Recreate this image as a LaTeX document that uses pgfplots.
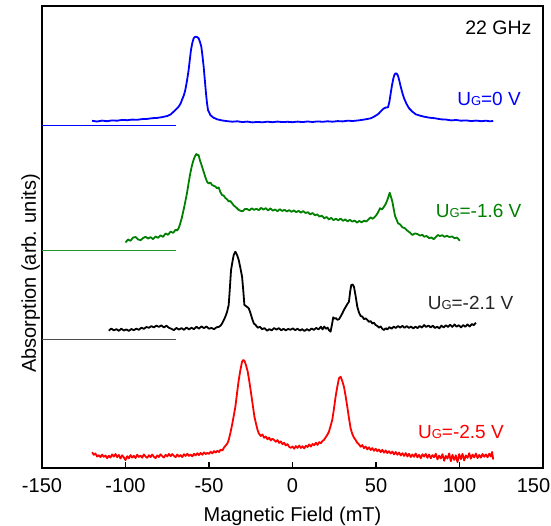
\documentclass[border=0pt]{standalone}
\usepackage{pgfplots}
\pgfplotsset{compat=1.18}
\usepackage{fontspec}
\setmainfont{Liberation Sans}
\definecolor{cblue}{RGB}{0,0,255}
\definecolor{cgreen}{RGB}{0,128,0}
\definecolor{cred}{RGB}{255,0,0}
\definecolor{cblack}{RGB}{0,0,0}
\newcommand\UG{U{\fontsize{13}{13}\selectfont G}}
\begin{document}
\begin{tikzpicture}
\begin{axis}[name=ax, scale only axis, width=501pt, height=462pt,
 xmin=-150, xmax=150, ymin=0, ymax=462,
 xtick={-150,-100,...,100}, ytick=\empty,
 extra x ticks={150},
 extra x tick style={xticklabel style={xshift=-9.5pt}},
 tick align=inside, xtick pos=bottom,
 major tick length=6pt,
 axis line style={line width=1.4pt},
 every tick/.style={line width=1.4pt, black},
 tick label style={font=\fontsize{20}{23}\selectfont},
 xticklabel style={anchor=base, yshift=-24pt},
 /pgf/number format/assume math mode=true,
 xlabel={Magnetic Field (mT)}, ylabel={Absorption (arb. units)},
 label style={font=\fontsize{20}{23}\selectfont},
 xlabel style={at={(axis description cs:0.5,-0.1154)}, anchor=base, inner sep=0pt},
 ylabel style={at={(axis description cs:-0.012,0.421)}, anchor=base, inner sep=0pt},
 every axis plot/.append style={line width=1.8pt, line join=round},
]
% baselines
\addplot[cblue, line width=1pt] coordinates {(-150,342) (-70,342)};
\addplot[cgreen!85!white, line width=1pt] coordinates {(-150,217) (-70,217)};
\addplot[black!70, line width=1pt] coordinates {(-150,129) (-70,129)};
% blue
\addplot[cblue] coordinates {(-120,347.2) (-117,346.5) (-114,347.4) (-111,346.8) (-108,347.6) (-105,347.3) (-102,348.1) (-99,347.8) (-96,348.4) (-93,348.2) (-90,348.9) (-87,349.1) (-84,349.8) (-81,350.1) (-78,350.9) (-75,352) (-73,353.5) (-71.2,356.3) (-69.5,359) (-68.2,361.3) (-67,364.5) (-66.2,368) (-65,373) (-64.2,378) (-63.2,387) (-62.2,398) (-61.5,408) (-60.8,418) (-60,425) (-59.2,429.7) (-58.2,431.3) (-57.2,431) (-56.2,429.7) (-55.4,426) (-54.6,421.3) (-53.9,412) (-53.2,401.3) (-52.5,388) (-51.8,374.7) (-51.2,365) (-50.6,358) (-49.2,353) (-47.5,350.5) (-45.2,348.7) (-42,347.5) (-39,346.8) (-36,346.3) (-33,346.7) (-30,345.9) (-27,346.4) (-24,345.6) (-21,346.1) (-18,345.7) (-15,346.3) (-12,345.8) (-9,346.4) (-6,345.9) (-3,346.2) (0,345.8) (3,346.4) (6,345.9) (9,346.5) (12,346) (15,346.6) (18,346.2) (21,346.7) (24,346.3) (27,346.9) (30,346.6) (33,347.3) (36,347) (39,347.5) (42,348.2) (44.5,348.9) (46.8,349.7) (49,351.5) (50.5,353) (51.8,354.7) (53.3,357.5) (54.8,359.7) (56,360.5) (57.2,360.7) (58,366) (58.8,374.7) (59.6,383) (60.4,389.7) (61.1,393.5) (61.8,394.7) (62.5,394.2) (63.2,392) (64,387) (64.8,381.3) (65.8,375) (66.8,369.7) (68.3,364) (69.8,359.7) (71.8,356.3) (73.8,353.7) (76,352.5) (78.8,351.3) (82,350.3) (85,349.8) (88.8,348.7) (92,348.4) (95,347.6) (98,348) (101,347.3) (104,347.6) (107,346.9) (110,347.4) (113,346.8) (116,347.3) (118,346.7) (120.2,347)};
% green
\addplot[cgreen] coordinates {(-100,225.5) (-98.5,228.5) (-97,227.2) (-95.5,230.4) (-94,231) (-92.5,228.6) (-91,227.8) (-89.5,229.9) (-88,231.2) (-86.5,229.5) (-85,230.8) (-83.5,228.9) (-82,231.5) (-80.5,230.2) (-79,232.6) (-77.5,231.1) (-76,234.5) (-74.5,233.2) (-73,236.4) (-71.5,235.1) (-70,238.2) (-69,237.5) (-68,240.5) (-67.2,244.7) (-66.3,250) (-65.5,256) (-64.8,261.3) (-64,268) (-63.2,274.7) (-62.5,282) (-61.8,289) (-61.2,294.7) (-60.4,301) (-59.6,306.3) (-58.6,311) (-57.6,314) (-56.9,312.8) (-56.2,313) (-55.5,308) (-54.8,304.7) (-54,300.5) (-53.2,296.3) (-52.2,291) (-51.2,286.3) (-50.2,284.5) (-49.2,285.5) (-48.2,283) (-47.2,282.2) (-46.2,281.5) (-45.2,279.7) (-44.2,280.6) (-43.2,276) (-42.2,273) (-41.2,272.4) (-40.2,270) (-39.2,268.7) (-38.2,266.5) (-37.2,267) (-36.2,264.7) (-35.2,262.6) (-34.2,261.3) (-33.2,259.7) (-32.2,258) (-31.2,257.3) (-30,256.6) (-28.6,258.9) (-27.2,259) (-25.8,257.6) (-24.4,259.7) (-23,258.1) (-21.6,259.2) (-20.2,257.8) (-18.8,260.1) (-17.4,258.4) (-16,259.9) (-14.6,257.6) (-13.2,259.6) (-11.8,257.3) (-10.4,258.5) (-9,256.8) (-7.6,258.8) (-6.2,257) (-4.8,258.2) (-3.4,256.5) (-2,257.9) (-0.6,256.2) (0.8,257.6) (2.2,255.8) (3.6,257.2) (5,255.4) (6.4,256.9) (7.8,255) (9.2,255.8) (10.6,253.6) (12,255) (13.4,252.8) (14.8,253.6) (16.2,251.4) (17.6,252.3) (19,249.7) (20.4,251) (21.8,248.6) (23.2,250.1) (24.6,247.9) (26,249.3) (27.4,247.7) (28.8,249.5) (30.2,247.2) (31.6,248.6) (33,246.6) (34.4,248.2) (35.8,246.3) (37.2,247.5) (38.6,245.4) (40,247.1) (41.4,245.6) (42.8,247.3) (44.2,246.5) (45.6,248.8) (46.8,250.6) (48,249.2) (49.4,251.3) (50.6,253.8) (51.6,257) (52.4,259.7) (53.6,258.6) (54.8,261.3) (55.8,264) (56.8,268) (57.5,271.5) (58.2,275.3) (59,271) (59.8,266.3) (60.6,259) (61.4,252) (62.3,248.5) (63.2,244.7) (64.5,243.5) (65.8,240.7) (67.3,239.8) (68.8,237.3) (70.3,235.4) (71.8,233) (73.3,234.6) (74.8,234) (76.3,232.4) (77.8,233.2) (78.8,231.3) (80.3,232) (81.8,229.8) (83.3,230.5) (84.5,228.8) (85.8,231) (87,233) (88.3,232) (89.7,232.8) (91,231.2) (92.5,232.2) (94,230.9) (95.5,231.6) (97,229.8) (98.5,230.4) (100.2,227.3)};
% black
\addplot[cblack] coordinates {(-110,137.3) (-108.5,139.5) (-107,137.6) (-105.5,138.9) (-104,137.2) (-102.5,139.3) (-101,137.5) (-99.5,138.6) (-98,137.1) (-96.5,139) (-95,137.8) (-93.5,139.4) (-92,138.2) (-90.5,140.3) (-89,139.1) (-87.5,141) (-86,140.2) (-84.5,141.9) (-83,140.6) (-81.5,142.4) (-80,141.1) (-78.5,142.6) (-77,140.5) (-75.5,142.3) (-74,140.2) (-72.5,139.2) (-71,137.8) (-69.5,140.1) (-68,138.4) (-66.5,139.9) (-65,138.2) (-63.5,140.5) (-62,138.6) (-60.5,140.3) (-59,138.8) (-57.5,141.2) (-56,139.4) (-54.5,141.6) (-53,139.9) (-51.5,141.5) (-50,139.3) (-48.5,140.1) (-47,138.8) (-45.5,140.7) (-44,141.2) (-43,142.5) (-42,145) (-41,148.5) (-40.2,151.3) (-39.2,156) (-38.2,163) (-37.5,180) (-36.8,198) (-36,206) (-35.2,213) (-34.2,216.3) (-33.2,213) (-32.2,208) (-31.2,200) (-30.2,191.3) (-29.5,178) (-28.8,163) (-27.5,161.5) (-26.2,159.7) (-25.2,155) (-24.2,149.5) (-23.2,144.7) (-22,142.8) (-20.8,140.3) (-19.5,141.2) (-18.2,138.8) (-16.8,139.9) (-15.2,137.3) (-13.8,138.9) (-12.4,137.6) (-11,140) (-9.6,138.3) (-8.2,139.9) (-6.8,137.7) (-5.4,139.2) (-4,137.6) (-2.6,139.1) (-1.2,138.2) (0.2,139.6) (1.6,137.8) (3,139.3) (4.4,137.5) (5.8,138.8) (7.2,137) (8.6,138.9) (10,137.4) (11.4,139.5) (12.8,138.1) (14.2,140.1) (15.6,138.6) (17,141.3) (18,138.6) (19,141.5) (20,139.2) (21,140.4) (22,137.5) (22.8,136.3) (23.6,143) (24.4,150.7) (25.2,149.4) (26,149.9) (26.8,148.3) (27.8,148.7) (28.8,151.5) (29.8,154.5) (30.8,158) (31.8,161) (32.8,163.8) (33.8,166.3) (34.5,176) (35.2,183) (36,183.5) (36.8,181.3) (37.8,172) (38.8,161.3) (39.8,155.5) (40.8,152) (41.8,151.5) (42.8,148.9) (43.8,149.6) (44.8,148) (45.8,146.2) (46.8,146.9) (47.8,144.5) (48.8,145.2) (49.8,143) (50.8,142) (51.8,140.4) (52.8,141.6) (53.8,139.1) (54.8,138) (55.8,139.8) (56.8,138.5) (58,140.9) (59.3,139.3) (60.6,141.4) (61.9,140) (63.2,142) (64.5,140.4) (65.8,142.1) (67.1,140.2) (68.4,141.9) (69.7,140.1) (71,141.5) (72.3,139.6) (73.6,141.3) (74.9,139.9) (76.2,142) (77.5,140.4) (78.8,143) (80.1,141) (81.4,142.5) (82.7,140.6) (84,142.3) (85.3,140) (86.6,141.3) (87.9,139.6) (89.2,142.4) (90.5,140.5) (91.8,142.8) (93.1,141) (94.4,143.2) (95.7,141.1) (97,143.5) (98.3,141.3) (99.6,142.8) (100.9,140.6) (102.2,142.9) (103.5,141.2) (104.8,143.6) (106.1,141.5) (107.4,144) (108.5,142.8) (109.8,145.3)};
% red
\addplot[cred] coordinates {(-120,15.8) (-119,13.2) (-118,14.5) (-117,11.5) (-116,12.8) (-115,10.9) (-114,13.4) (-113,11.2) (-112,12.5) (-111,9.8) (-110,12.3) (-109,10.5) (-108,13.6) (-107,11.4) (-106,14) (-105,10.8) (-104,13.1) (-103,9.5) (-102,12.7) (-101,10.6) (-100,7.9) (-99,11.8) (-98,9.6) (-97,12.9) (-96,10.4) (-95,12.2) (-94,9.9) (-93,13.3) (-92,11.1) (-91,12.4) (-90,10.3) (-89,13.6) (-88,11.5) (-87,10.2) (-86,12.8) (-85,10.9) (-84,13.5) (-83,11.3) (-82,9.8) (-81,12.6) (-80,11) (-79,13.7) (-78,11.9) (-77,10.4) (-76,13.2) (-75,11.6) (-74,14.1) (-73,11.8) (-72,13.9) (-71,12.2) (-70,10.8) (-69,13.5) (-68,11.4) (-67,12.9) (-66,10.9) (-65,13.8) (-64,12) (-63,14.3) (-62,12.1) (-61,13.4) (-60,11.7) (-59,14.2) (-58,12.6) (-57,14.8) (-56,12.9) (-55,15.1) (-54,13.2) (-53,15.6) (-52,13.9) (-51,15.2) (-50,14.1) (-49,16.3) (-48,14.6) (-47,16.9) (-46,15.4) (-45,17.2) (-44,16) (-43,18.4) (-42,17.5) (-41,20.5) (-40,22.5) (-39,24.5) (-38.2,28) (-37.2,35) (-36.2,43) (-35.2,52) (-34.2,61.3) (-33.2,75) (-32.2,88) (-31.2,98) (-30.2,106.3) (-29.5,108) (-28.8,107.3) (-27.8,102.5) (-26.8,96.3) (-25.8,86) (-24.8,74.7) (-23.8,63) (-22.8,51.3) (-21.8,44) (-21,38.5) (-20.2,34.7) (-19,32) (-18,33.6) (-17,30.2) (-16,31.5) (-15,28.7) (-14,30.4) (-13,27.6) (-12,29.3) (-11,28) (-10,26.2) (-9,27.9) (-8,25.1) (-7,26.6) (-6,23.8) (-5,25.2) (-4,22.6) (-3,23.9) (-2,21.1) (-1,20.2) (0,21.5) (1,19.3) (2,21.9) (3,20.1) (4,22.4) (5,20) (6,21.8) (7,19.6) (8,22.3) (9,21) (10,23.6) (11,21.4) (12,24) (13,22.7) (14,25.3) (15,23.1) (16,25.9) (17,24.8) (18,27.2) (18.8,28) (19.8,30.5) (20.8,33) (21.8,36.3) (22.8,42) (23.8,48) (24.8,59) (25.8,71.3) (26.8,81) (27.8,89.7) (28.8,91.3) (29.8,87) (30.8,81.3) (31.8,72) (32.8,61.3) (33.8,50) (34.8,39.7) (35.8,34) (36.8,30.5) (37.8,28) (38.8,25.2) (39.8,23.6) (40.8,21.3) (41.8,23) (42.8,19.8) (43.8,21.5) (44.8,18.6) (45.8,20.7) (46.8,18) (47.8,19.9) (48.8,17.2) (49.8,19.3) (50.8,16.8) (51.8,18.5) (52.8,15.9) (53.8,18.2) (54.8,15.3) (55.8,17.6) (56.8,14.9) (57.8,16.8) (58.8,14.5) (59.8,16.4) (60.8,13.6) (61.8,16) (62.8,13.2) (63.8,15.5) (64.8,12.6) (65.8,14.8) (66.8,12.1) (67.8,14.9) (68.8,11.5) (69.8,14.2) (70.8,10.9) (71.8,13.6) (72.8,11.2) (73.8,14.5) (74.8,10.6) (75.8,13.2) (76.8,9.8) (77.8,13.7) (78.8,11.4) (79.8,14.1) (80.8,10.2) (81.8,13.5) (82.8,9.7) (83.8,12.9) (84.8,10.8) (85.8,14.3) (86.8,8.6) (87.8,12.4) (88.8,9.5) (89.8,13.8) (90.8,7.2) (91.8,12.1) (92.8,9.4) (93.8,14.6) (94.8,6.8) (95.8,13.2) (96.8,8.1) (97.8,12.7) (98.8,5.9) (99.8,13.9) (100.8,8.8) (101.8,14.2) (102.8,7.5) (103.8,12.6) (104.8,10.1) (105.8,14.8) (106.8,9.3) (107.8,13.4) (108.8,10.6) (109.8,14.5) (110.8,9.9) (111.8,13.1) (112.8,10.4) (113.8,14) (114.8,11.2) (115.8,13.6) (116.8,10.7) (117.8,14.3) (118.8,11.5) (119.5,16) (120.2,8.5)};
% labels
\node[anchor=east, inner sep=0pt, font=\fontsize{19.5}{22}\selectfont] at (axis cs:143.2,440) {22 GHz};
\node[anchor=east, inner sep=0pt, text=cblue, font=\fontsize{19}{22}\selectfont] at (axis cs:136.8,369) {\UG=0 V};
\node[anchor=east, inner sep=0pt, text=cgreen, font=\fontsize{19}{22}\selectfont] at (axis cs:137.2,257.3) {\UG=-1.6 V};
\node[anchor=east, inner sep=0pt, text=black!85, font=\fontsize{19}{22}\selectfont] at (axis cs:132.4,165.3) {\UG=-2.1 V};
\node[anchor=east, inner sep=0pt, text=cred, font=\fontsize{19}{22}\selectfont] at (axis cs:126.6,36.3) {\UG=-2.5 V};
\end{axis}
\pgfresetboundingbox
\path[use as bounding box] ([shift={(-42pt,-57pt)}]ax.south west) rectangle ([shift={(8pt,6pt)}]ax.north east);
\end{tikzpicture}
\end{document}
